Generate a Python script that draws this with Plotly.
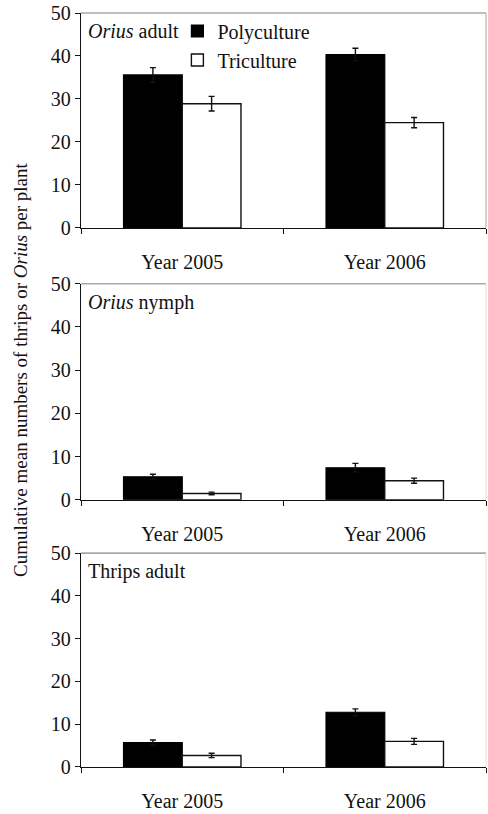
import plotly.graph_objects as go

# Data: cumulative mean numbers per plant (mean ± SE)
years = ["Year 2005", "Year 2006"]
panel_titles = ["<i>Orius</i> adult", "<i>Orius</i> nymph", "Thrips adult"]

poly_adult = [35.6, 40.3]
poly_adult_se = [1.7, 1.5]
tri_adult = [28.9, 24.5]
tri_adult_se = [1.7, 1.2]

poly_nymph = [5.3, 7.4]
poly_nymph_se = [0.6, 1.0]
tri_nymph = [1.45, 4.4]
tri_nymph_se = [0.3, 0.6]

poly_thrips = [5.7, 12.8]
poly_thrips_se = [0.6, 0.8]
tri_thrips = [2.7, 6.0]
tri_thrips_se = [0.5, 0.7]

series_labels = ["Polyculture", "Triculture"]
y_title = "Cumulative mean numbers of thrips or <i>Orius</i> per plant"

FONT = "Liberation Serif"
INK = "#111111"

panels = [
    (poly_adult, poly_adult_se, tri_adult, tri_adult_se),
    (poly_nymph, poly_nymph_se, tri_nymph, tri_nymph_se),
    (poly_thrips, poly_thrips_se, tri_thrips, tri_thrips_se),
]

# vertical domains of the three stacked panels (paper fraction)
domains = [(0.715, 1.0), (0.3545, 0.641), (0.0, 0.2836)]

fig = go.Figure()
xpos = list(range(len(years)))

for i, (pv, pe, tv, te) in enumerate(panels):
    n = "" if i == 0 else str(i + 1)
    err = dict(type="data", visible=True, color=INK, thickness=1.4, width=3)
    fig.add_trace(go.Bar(
        x=xpos, y=pv, name=series_labels[0], xaxis="x" + n, yaxis="y" + n,
        marker=dict(color="black", line=dict(color="black", width=1.2)),
        error_y=dict(array=pe, **err), showlegend=(i == 0),
    ))
    fig.add_trace(go.Bar(
        x=xpos, y=tv, name=series_labels[1], xaxis="x" + n, yaxis="y" + n,
        marker=dict(color="white", line=dict(color=INK, width=1.4)),
        error_y=dict(array=te, **err), showlegend=(i == 0),
    ))

    xa = dict(
        domain=[0, 1], anchor="y" + n, range=[-0.5, 1.5],
        tickmode="array", tickvals=xpos, ticktext=years,
        ticks="outside", ticklen=16, tickcolor="rgba(0,0,0,0)",
        minor=dict(tickmode="array", tickvals=[-0.5, 0.5, 1.5], ticks="outside",
                   ticklen=5, tickwidth=1.2, tickcolor=INK),
        showline=True, linecolor=INK, linewidth=1.4,
        showgrid=False, zeroline=False, fixedrange=True,
        tickfont=dict(family=FONT, size=20, color=INK),
    )
    ya = dict(
        domain=list(domains[i]), anchor="x" + n, range=[0, 50],
        tickmode="array", tickvals=[0, 10, 20, 30, 40, 50],
        ticks="outside", ticklen=5, tickwidth=1.2, tickcolor=INK,
        showline=True, linecolor=INK, linewidth=1.4,
        showgrid=False, zeroline=False, fixedrange=True,
        tickfont=dict(family=FONT, size=20, color=INK),
    )
    fig.update_layout({"xaxis" + n: xa, "yaxis" + n: ya})

    # light frame along the top and right of each panel
    fig.add_shape(type="line", xref="x" + n + " domain", yref="y" + n + " domain",
                  x0=0, x1=1, y0=1, y1=1, line=dict(color="#a8a8a8", width=1.6))
    fig.add_shape(type="line", xref="x" + n + " domain", yref="y" + n + " domain",
                  x0=1, x1=1, y0=0, y1=1,
                  line=dict(color="#b4b4b4" if i == 0 else "#e6e6e6", width=1.2))

    fig.add_annotation(
        text=panel_titles[i], xref="x" + n + " domain", yref="y" + n + " domain",
        x=0.012, y=0.915, xanchor="left", yanchor="middle", showarrow=False,
        font=dict(family=FONT, size=20, color=INK),
    )

fig.add_annotation(
    text=y_title, xref="paper", yref="paper", x=-0.15, y=0.527,
    textangle=-90, showarrow=False, xanchor="center", yanchor="middle",
    font=dict(family=FONT, size=19, color=INK),
)

fig.update_layout(
    width=488, height=814,
    margin=dict(l=81, r=2, t=13, b=43),
    paper_bgcolor="white", plot_bgcolor="white",
    barmode="group", bargap=0.42, bargroupgap=0,
    legend=dict(
        x=0.238, y=1.002, xanchor="left", yanchor="top",
        font=dict(family=FONT, size=20, color=INK),
        bgcolor="rgba(0,0,0,0)", itemwidth=30, tracegroupgap=0,
    ),
    showlegend=True,
)

fig.write_html("out.html")
